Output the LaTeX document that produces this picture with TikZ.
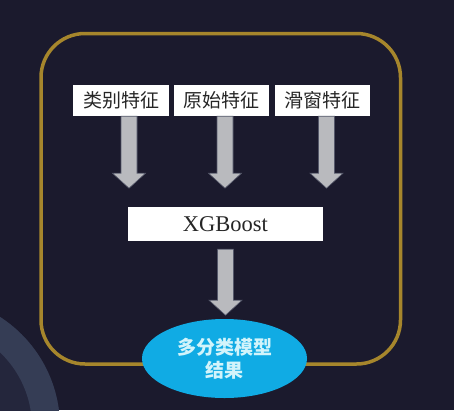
\documentclass[tikz,border=0pt]{standalone}
\usepackage{fontspec}
\setmainfont{Liberation Serif}
\newfontfamily\cjk{Noto Sans CJK SC}
\usetikzlibrary{calc,shapes.geometric}
\definecolor{bgc}{HTML}{1B1A2D}
\definecolor{gold}{HTML}{A6862C}
\definecolor{arrfill}{HTML}{B9BABE}
\definecolor{arredge}{HTML}{55586A}
\definecolor{ellblue}{HTML}{10ABE4}
\definecolor{elltext}{HTML}{D2F4FB}
\definecolor{ringc}{HTML}{353D55}
\definecolor{ringin}{HTML}{24263C}
\tikzset{
  featbox/.style={fill=white, inner sep=0pt, minimum height=31pt, font=\cjk\fontsize{19}{19}\selectfont, text=black!85},
  xgbox/.style={fill=white, inner sep=0pt, minimum width=195pt, minimum height=34pt, font=\fontsize{22.5}{22.5}\selectfont, text=black!85},
  barrow/.style={fill=arrfill, draw=arredge, line width=0.6pt, line join=miter},
  frame/.style={draw=gold, line width=3.5pt, rounded corners=44pt},
  result/.style={ellipse, fill=ellblue, inner sep=0pt, minimum width=165pt, minimum height=79pt, align=center, text=elltext, font=\cjk\bfseries\fontsize{19}{23}\selectfont}
}
\newcommand\BlockArrow[3]{%
  \draw[barrow] ($#1+(-8,0)$) -- ++(0,#2) -- ++(-8.5,0) -- ($#1+(0,#3)$) -- ($#1+(16.5,#2)$) -- ++(-8.5,0) -- ($#1+(8,0)$) -- cycle;}
\begin{document}
\begin{tikzpicture}[x=1pt,y=-1pt]
  \fill[bgc] (0,0) rectangle (454,410);
  \useasboundingbox (0,0) rectangle (454,410);
  % decorative planet arc
  \begin{scope}
    \clip (0,0) rectangle (454,410);
    \fill[ringin] (-71,427) circle (131);
    \fill[ringc, even odd rule] (-71,427) circle (131) (-71,427) circle (103);
  \end{scope}
  % frame
  \draw[frame] (41,33.5) rectangle (400.5,364);
  % feature boxes
  \node[featbox, minimum width=96pt] (f1) at (121,100.5) {类别特征};
  \node[featbox, minimum width=95pt] (f2) at (221.5,100.5) {原始特征};
  \node[featbox, minimum width=95pt] (f3) at (322.5,100.5) {滑窗特征};
  \node[xgbox] (xg) at (225.5,224) {XGBoost};
  \node[result] (res) at (224.5,358.5) {多分类模型\\结果};
  % block arrows
  \coordinate (a1) at ($(f1.south)+(8,0)$);
  \coordinate (a2) at ($(f2.south)+(3.5,0)$);
  \coordinate (a3) at ($(f3.south)+(4,0)$);
  \coordinate (a4) at ($(xg.south)+(0,8)$);
  \BlockArrow{(a1)}{57}{72}
  \BlockArrow{(a2)}{57}{72}
  \BlockArrow{(a3)}{57}{72}
  \BlockArrow{(a4)}{51}{66}
\end{tikzpicture}
\end{document}
